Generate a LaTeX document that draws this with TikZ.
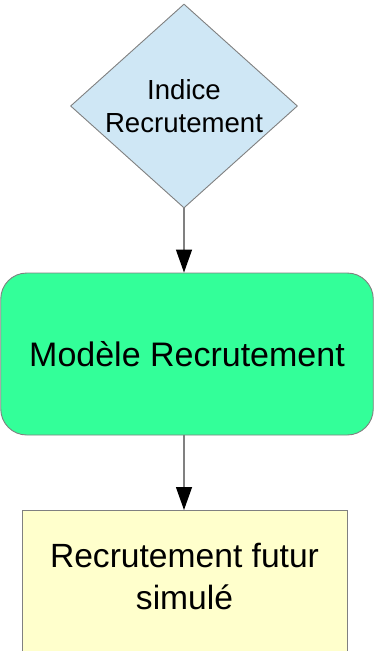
\documentclass[tikz,border=0pt]{standalone}
\usepackage{fontspec}
\setmainfont{Liberation Sans}
\usetikzlibrary{shapes.geometric,arrows.meta}
\definecolor{dfill}{HTML}{CFE7F5}
\definecolor{gfill}{HTML}{33FF99}
\definecolor{yfill}{HTML}{FFFFCC}
\definecolor{bord}{HTML}{808080}
\tikzset{
  border/.style={draw=bord, line width=0.9pt},
  arr/.style={draw=bord, line width=1.3pt, -{Triangle[length=23pt,width=16pt,color=black,fill=black]}},
}
\begin{document}
\begin{tikzpicture}[x=1pt,y=-1pt]
\useasboundingbox (0,0) rectangle (374,651);
\begin{scope}
\clip (0,0) rectangle (374,651);
\node[border, fill=dfill, shape=diamond, aspect=1.11, inner sep=0pt,
      minimum width=227pt, minimum height=204pt, align=center,
      font=\fontsize{27.6}{33}\selectfont] (d) at (184,106) {Indice\\Recrutement};
\node[border, fill=gfill, rounded corners=26pt, minimum width=372.5pt, minimum height=162pt,
      inner sep=0pt, font=\fontsize{34}{42}\selectfont] (m) at (187,354) {Modèle Recrutement};
\node[border, fill=yfill, minimum width=325pt, minimum height=220pt, inner sep=0pt, anchor=north] (y) at (184.5,510) {};
\node[align=center, inner sep=0pt, font=\fontsize{33.6}{42}\selectfont] (yt) at (184.5,576) {Recrutement futur\\simulé};
\end{scope}
\draw[arr] (d.south) -- (d.south |- m.north);
\draw[arr] (d.south |- m.south) -- (d.south |- y.north);
\end{tikzpicture}
\end{document}
